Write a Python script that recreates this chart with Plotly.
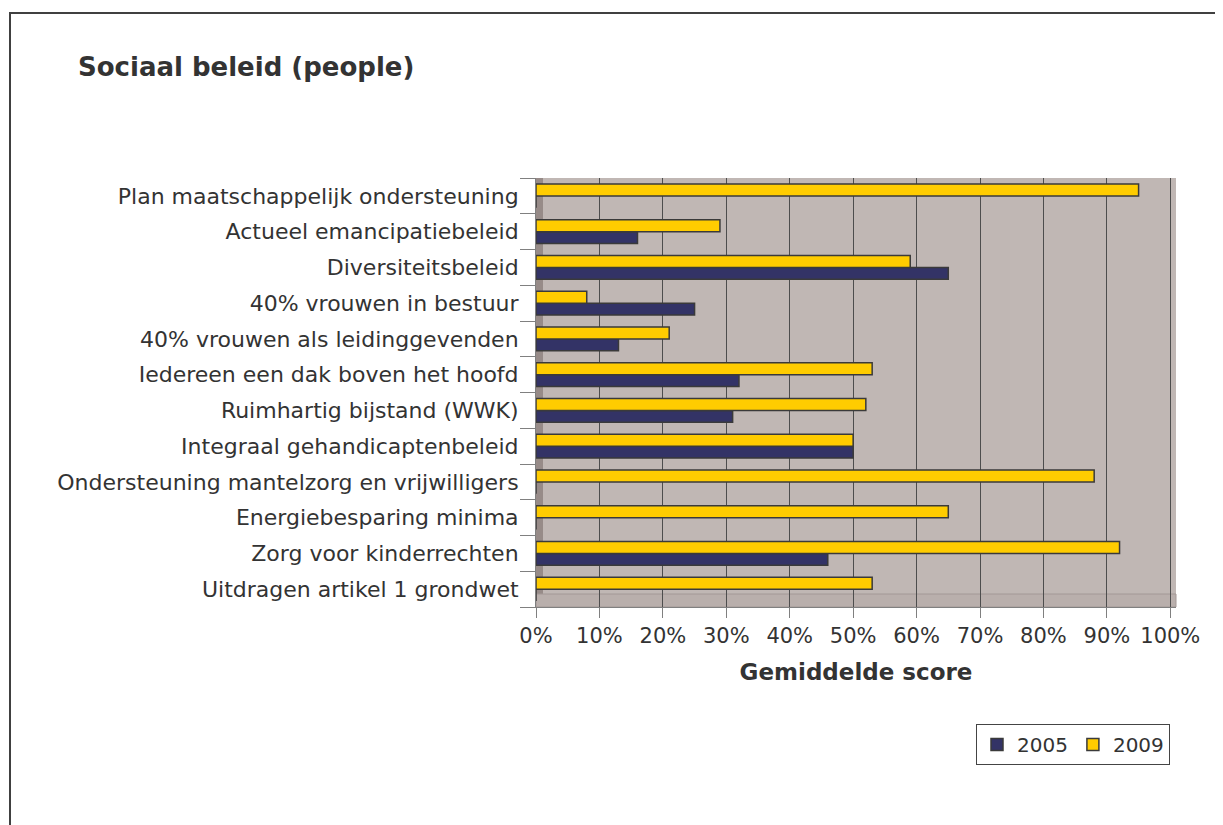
import plotly.graph_objects as go

categories = [
    "Plan maatschappelijk ondersteuning",
    "Actueel emancipatiebeleid",
    "Diversiteitsbeleid",
    "40% vrouwen in bestuur",
    "40% vrouwen als leidinggevenden",
    "Iedereen een dak boven het hoofd",
    "Ruimhartig bijstand (WWK)",
    "Integraal gehandicaptenbeleid",
    "Ondersteuning mantelzorg en vrijwilligers",
    "Energiebesparing minima",
    "Zorg voor kinderrechten",
    "Uitdragen artikel 1 grondwet",
]
values_2005 = [0, 16, 65, 25, 13, 32, 31, 50, 0, 0, 46, 0]
values_2009 = [95, 29, 59, 8, 21, 53, 52, 50, 88, 65, 92, 53]
x_ticks = [0, 10, 20, 30, 40, 50, 60, 70, 80, 90, 100]
x_tick_labels = [f"{v}%" for v in x_ticks]

FONT = "DejaVu Sans"
TXT = "#333333"
OFF = 8  # page body margin

fig = go.Figure()
fig.add_trace(go.Bar(
    name="2005", y=categories, x=values_2005, orientation="h",
    marker=dict(color="#333366", line=dict(color="#3a3a3a", width=1.5)),
))
fig.add_trace(go.Bar(
    name="2009", y=categories, x=values_2009, orientation="h",
    marker=dict(color="#FFCC00", line=dict(color="#3a3a3a", width=1.5)),
))

W, H = 1223 - OFF, 825 - OFF
L = 536 - OFF
T = 178 - OFF
pw = 640
ph = 429
R = W - L - pw
B = H - T - ph

def px_x(p):
    return (p - OFF - L) / pw

def px_y(p):
    return (T + ph - (p - OFF)) / ph

shapes = [
    dict(type="rect", xref="paper", yref="paper",
         x0=px_x(10), x1=px_x(1300), y0=px_y(13), y1=px_y(900),
         line=dict(color="#404040", width=2), fillcolor="rgba(0,0,0,0)", layer="below"),
    dict(type="rect", xref="paper", yref="paper",
         x0=0, x1=px_x(543), y0=0, y1=1,
         line=dict(width=0), fillcolor="#978B88", layer="below"),
    dict(type="rect", xref="paper", yref="paper",
         x0=0, x1=1, y0=0, y1=px_y(594),
         line=dict(color="#A39896", width=1), fillcolor="#B9AFAC", layer="below"),
]

fig.update_layout(
    width=W, height=H,
    margin=dict(l=L, r=R, t=T, b=B, autoexpand=False),
    paper_bgcolor="white",
    plot_bgcolor="#C0B7B4",
    barmode="group",
    bargap=0.33,
    bargroupgap=0,
    font=dict(family=FONT, size=22, color=TXT),
    title=dict(text="<b>Sociaal beleid (people)</b>", x=(78 - OFF) / W, xref="container",
               xanchor="left", y=1 - (67 - OFF) / H, yref="container", yanchor="middle",
               font=dict(family=FONT, size=26, color=TXT)),
    xaxis=dict(
        range=[0, 100.9], tickmode="array", tickvals=x_ticks, ticktext=x_tick_labels,
        showgrid=True, gridcolor="#4d4d4d", gridwidth=1,
        zeroline=False, showline=True, linecolor="#808080", linewidth=1,
        ticks="outside", ticklen=10, tickcolor="#808080",
        tickfont=dict(family=FONT, size=21, color=TXT),
        title=dict(text="<b>Gemiddelde score</b>", standoff=16,
                   font=dict(family=FONT, size=23, color=TXT)),
        fixedrange=True,
    ),
    yaxis=dict(
        categoryorder="array", categoryarray=list(reversed(categories)),
        showgrid=False, zeroline=False, showline=True, linecolor="#808080", linewidth=1,
        ticks="outside", tickson="boundaries", ticklen=15, tickcolor="#808080",
        ticklabelstandoff=12,
        tickfont=dict(family=FONT, size=22, color=TXT),
        fixedrange=True,
    ),
    legend=dict(
        orientation="h", x=px_x(1170), xanchor="right", y=px_y(724), yanchor="top",
        bordercolor="#444444", borderwidth=1, bgcolor="white",
        font=dict(family=FONT, size=20, color=TXT),
        itemwidth=30, traceorder="normal", tracegroupgap=0,
    ),
    shapes=shapes,
)

fig.write_html("out.html")
